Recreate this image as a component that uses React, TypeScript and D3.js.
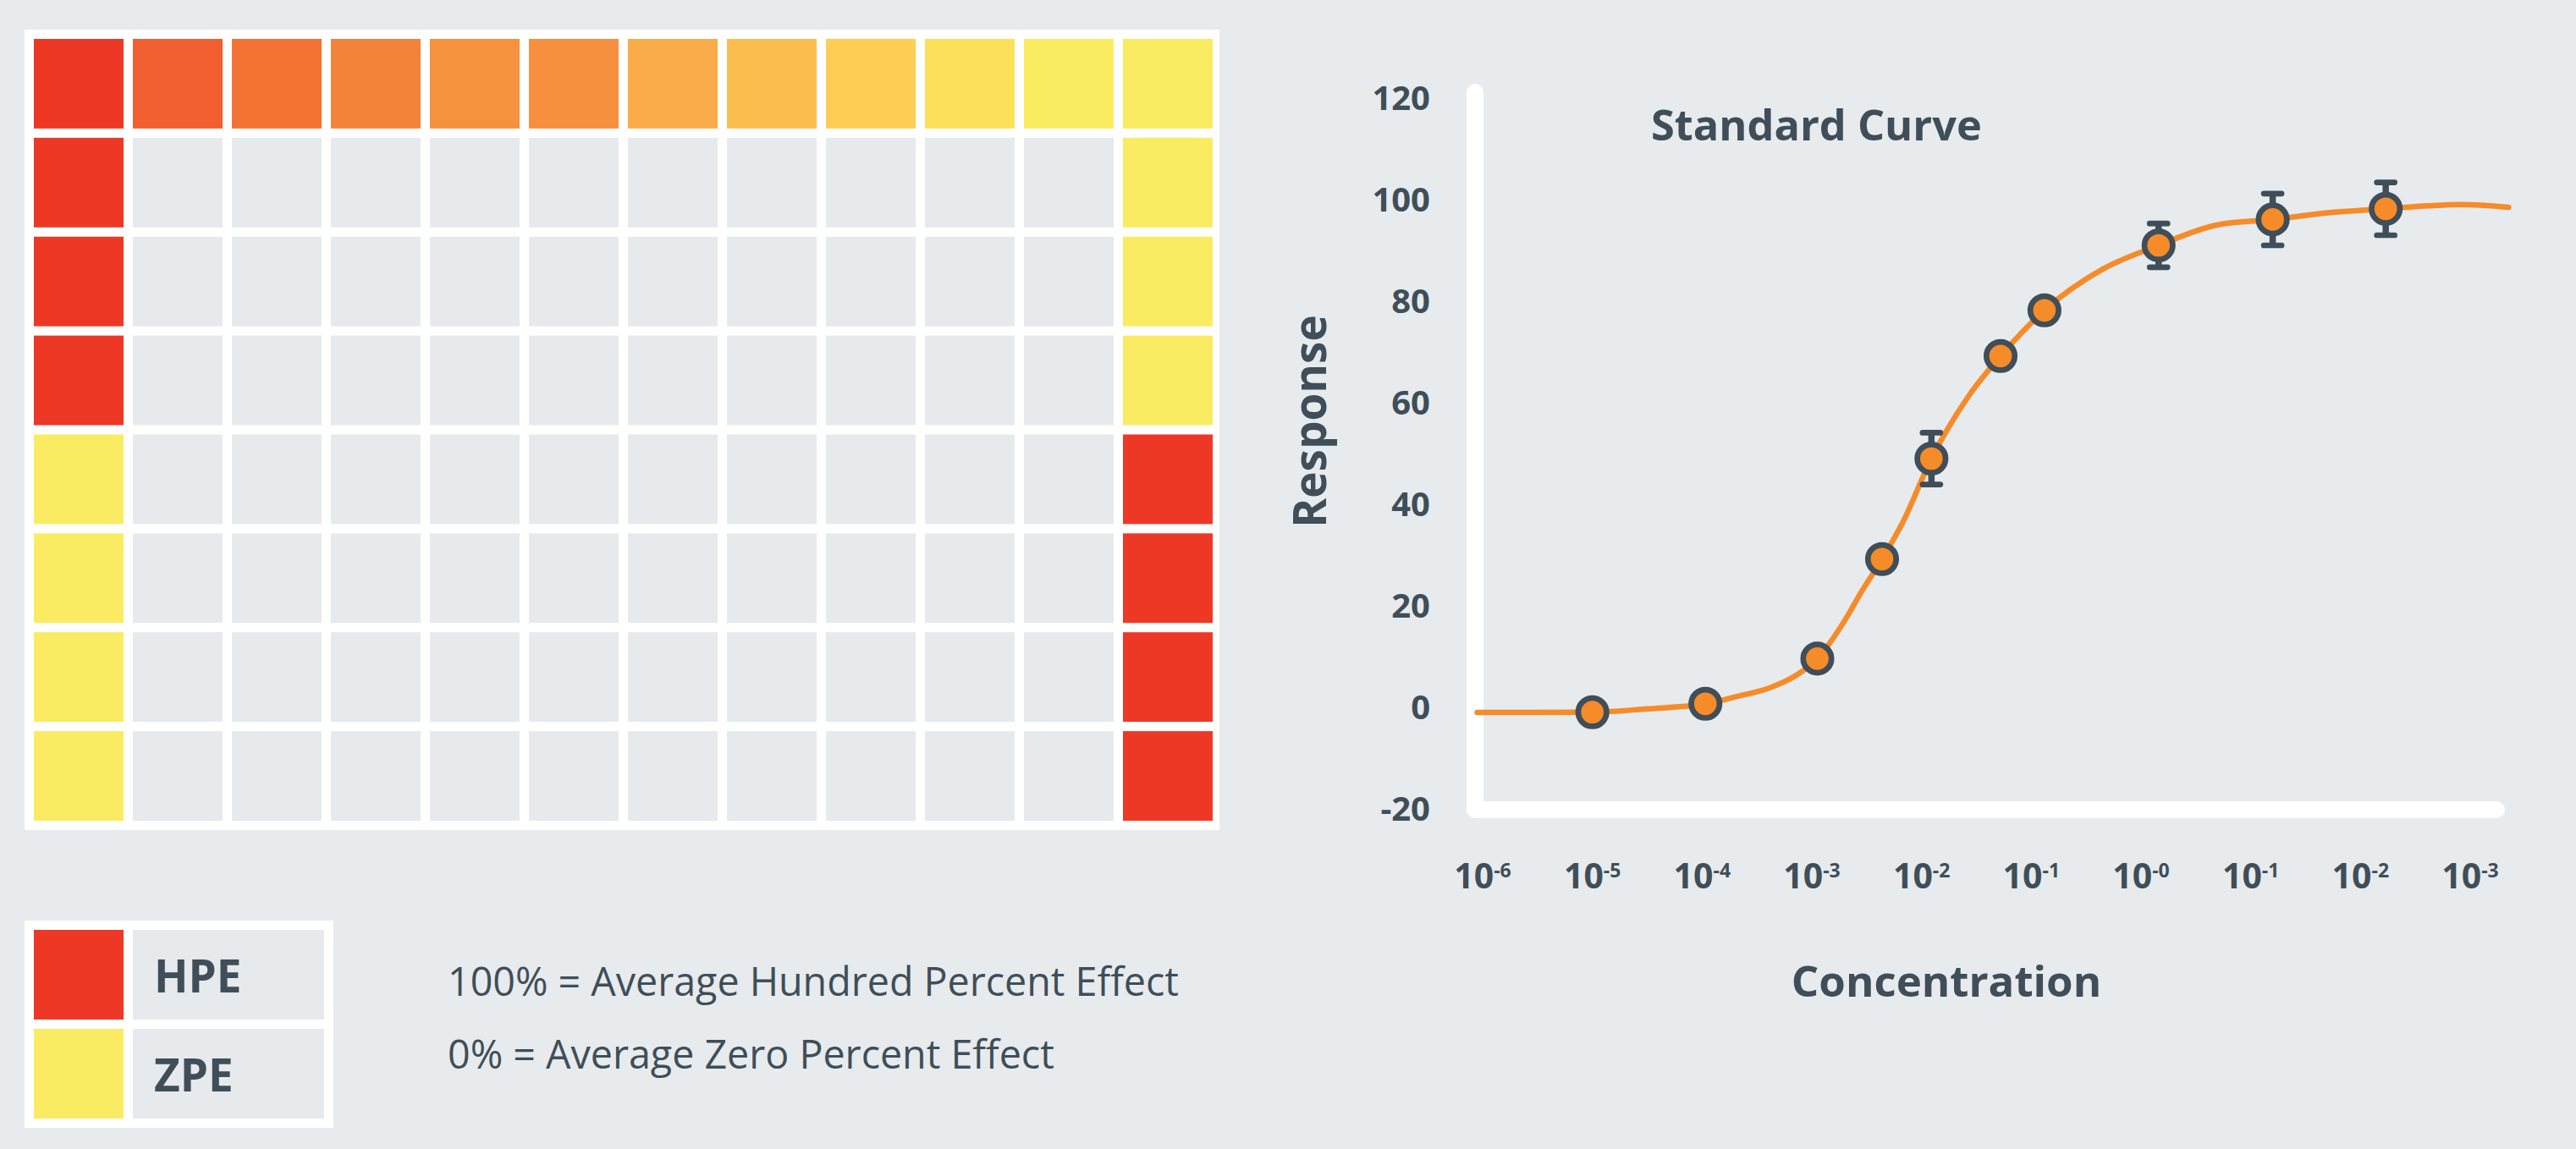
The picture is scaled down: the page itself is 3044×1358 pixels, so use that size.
import React from "react";
import * as d3 from "d3";

const W = 3044;
const H = 1358;
const BG = "#E7EBEE";
const CELL = "#E6EAED";
const INK = "#3F4E58";
const ORANGE = "#F68B2A";
const FONT = "'Open Sans', 'Noto Sans', sans-serif";

// ---- plate data ----
const plateRows = ["A", "B", "C", "D", "E", "F", "G", "H"];
const plateCols = ["1", "2", "3", "4", "5", "6", "7", "8", "9", "10", "11", "12"];
const gradientRow = [
  "#EE3826", "#F15F30", "#F37234", "#F38338", "#F6913D", "#F68F3E",
  "#FAAC4A", "#FCBE4F", "#FECE55", "#FCE05A", "#FAEC60", "#F9EC62",
];
const HPE_COLOR = "#EE3826";
const ZPE_COLOR = "#F9EC62";
const controlLeft = ["grad", "HPE", "HPE", "HPE", "ZPE", "ZPE", "ZPE", "ZPE"];
const controlRight = ["grad", "ZPE", "ZPE", "ZPE", "HPE", "HPE", "HPE", "HPE"];
const legendItems = ["HPE", "ZPE"];
const legendNotes = ["100% = Average Hundred Percent Effect", "0% = Average Zero Percent Effect"];

// ---- standard curve data ----
const yTicks = [-20, 0, 20, 40, 60, 80, 100, 120];
const xTickExp = [-6, -5, -4, -3, -2, -1, 0, 1, 2, 3];
const xTickSup = ["-6", "-5", "-4", "-3", "-2", "-1", "-0", "-1", "-2", "-3"];
const pointExp = [-5.0, -3.97, -2.95, -2.36, -1.91, -1.28, -0.88, 0.16, 1.2, 2.23];
const pointResp = [-0.95, 0.7, 9.6, 29.2, 49.0, 69.2, 78.2, 91.0, 96.1, 98.2];
const pointErr = [0, 0, 0, 0, 5.1, 0, 0, 4.3, 5.1, 5.2];
const curveExp = [-6.05, -5.5, -5.0, -4.5, -3.97, -3.69, -3.39, -3.15, -2.95, -2.7, -2.55, -2.36, -2.17, -1.91, -1.565, -1.28, -0.88, -0.35, 0.16, 0.69, 1.2, 1.7, 2.23, 2.62, 2.92, 3.35];
const curveResp = [-1.0, -1.0, -0.95, -0.3, 0.7, 2.1, 3.8, 6.2, 9.6, 17.1, 22.7, 29.2, 36.5, 49.0, 61.5, 69.2, 78.2, 86.3, 91.0, 95.0, 96.1, 97.4, 98.2, 98.8, 99.05, 98.5];

export default function App() {
  // plate scales
  const colBand = d3.scaleBand<string>().domain(plateCols).range([40, 1433]).paddingInner(11 / 117);
  const rowBand = d3.scaleBand<string>().domain(plateRows).range([46, 970]).paddingInner(11 / 117);
  const legBand = d3.scaleBand<string>().domain(legendItems).range([1099, 1322]).paddingInner(11 / 117);

  const cellColor = (r: number, c: number) => {
    if (r === 0) return gradientRow[c];
    if (c === 0) return controlLeft[r] === "HPE" ? HPE_COLOR : ZPE_COLOR;
    if (c === plateCols.length - 1) return controlRight[r] === "HPE" ? HPE_COLOR : ZPE_COLOR;
    return CELL;
  };

  // chart scales
  const x = d3.scaleLinear().domain([-6, 3]).range([1752, 2919]);
  const y = d3.scaleLinear().domain([-20, 120]).range([956, 116]);

  const curvePts = curveExp.map((e, i) => [e, curveResp[i]] as [number, number]);
  const line = d3
    .line<[number, number]>()
    .x((d) => x(d[0]))
    .y((d) => y(d[1]))
    .curve(d3.curveMonotoneX);

  const axisX0 = 1743;
  const axisY0 = 957;

  return (
    <svg
      width={W}
      height={H}
      viewBox={`0 0 ${W} ${H}`}
      style={{ position: "absolute", left: 0, top: 0, display: "block", background: BG }}
      fontFamily={FONT}
    >
      <rect x={0} y={0} width={W} height={H} fill={BG} />

      {/* plate */}
      <rect x={29} y={35} width={1412} height={946} fill="#FFFFFF" />
      {plateRows.map((row, r) =>
        plateCols.map((col, c) => (
          <rect
            key={row + col}
            x={colBand(col)}
            y={rowBand(row)}
            width={colBand.bandwidth()}
            height={rowBand.bandwidth()}
            fill={cellColor(r, c)}
          />
        ))
      )}

      {/* legend */}
      <rect x={29} y={1088} width={365} height={245} fill="#FFFFFF" />
      {legendItems.map((item) => (
        <g key={item}>
          <rect x={40} y={legBand(item)} width={106} height={legBand.bandwidth()} fill={item === "HPE" ? HPE_COLOR : ZPE_COLOR} />
          <rect x={157} y={legBand(item)} width={226} height={legBand.bandwidth()} fill={CELL} />
          <text x={182} y={(legBand(item) as number) + 74} fontSize={53} fontWeight={700} fill={INK}>
            {item}
          </text>
        </g>
      ))}
      {legendNotes.map((note, i) => (
        <text key={note} x={529} y={1177 + i * 86} fontSize={46.6} fontWeight={400} fill={INK}>
          {note}
        </text>
      ))}

      {/* axes */}
      <path
        d={`M${axisX0},${y(120) - 7} L${axisX0},${axisY0} L2950,${axisY0}`}
        fill="none"
        stroke="#FFFFFF"
        strokeWidth={20}
        strokeLinecap="round"
        strokeLinejoin="round"
      />
      {yTicks.map((t) => (
        <text key={t} x={1690} y={y(t) + 14} textAnchor="end" fontSize={40} fontWeight={700} fill={INK}>
          {t}
        </text>
      ))}
      {xTickExp.map((e, i) => (
        <text key={i} x={x(e)} y={1050} textAnchor="middle" fontSize={41} fontWeight={700} fill={INK}>
          10
          <tspan fontSize={23} dy={-13}>
            {xTickSup[i]}
          </tspan>
        </text>
      ))}
      <text x={2300} y={1178} textAnchor="middle" fontSize={51} fontWeight={700} fill={INK}>
        Concentration
      </text>
      <text transform="translate(1567,498) rotate(-90)" textAnchor="middle" fontSize={53} fontWeight={700} fill={INK}>
        Response
      </text>
      <text x={1951} y={166} fontSize={50.5} fontWeight={700} fill={INK}>
        Standard Curve
      </text>

      {/* curve */}
      <path d={line(curvePts) || ""} fill="none" stroke={ORANGE} strokeWidth={6.5} strokeLinecap="round" />

      {/* error bars and points */}
      {pointExp.map((e, i) => {
        const cx = x(e);
        const cy = y(pointResp[i]);
        const err = pointErr[i];
        return (
          <g key={i}>
            {err > 0 && (
              <g stroke={INK} strokeLinecap="round">
                <line x1={cx} x2={cx} y1={y(pointResp[i] + err)} y2={y(pointResp[i] - err)} strokeWidth={7.5} strokeLinecap="butt" />
                <line x1={cx - 10.5} x2={cx + 10.5} y1={y(pointResp[i] + err)} y2={y(pointResp[i] + err)} strokeWidth={6.7} />
                <line x1={cx - 10.5} x2={cx + 10.5} y1={y(pointResp[i] - err)} y2={y(pointResp[i] - err)} strokeWidth={6.7} />
              </g>
            )}
            <circle cx={cx} cy={cy} r={16.7} fill={ORANGE} stroke={INK} strokeWidth={6.7} />
          </g>
        );
      })}
    </svg>
  );
}
